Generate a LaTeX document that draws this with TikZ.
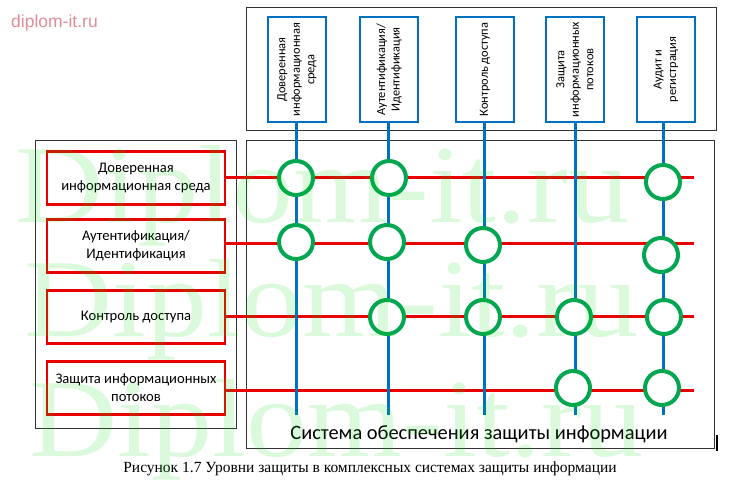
\documentclass[tikz,border=0pt]{standalone}
\usepackage{fontspec}
\setmainfont{Carlito}
\newfontfamily\serifcap{Liberation Serif}
\newfontfamily\arialwm{Liberation Sans}
\definecolor{bred}{RGB}{232,0,0}
\definecolor{bblue}{RGB}{0,112,192}
\definecolor{bgreen}{RGB}{0,166,80}
\definecolor{frm}{RGB}{50,50,50}
\definecolor{wmgreen}{RGB}{0,220,0}
\definecolor{wmpink}{RGB}{222,140,150}
\tikzset{
  outerbox/.style={draw=frm, line width=0.9pt},
  redbox/.style={draw=bred, line width=2.4pt, minimum width=178, minimum height=53, align=center, font=\fontsize{14.6}{18}\selectfont, inner sep=0pt},
  bluebox/.style={draw=bblue, line width=2.4pt, minimum width=58, minimum height=105, inner sep=0pt},
  vtext/.style={rotate=90, align=center, font=\fontsize{12.4}{14.5}\selectfont, inner sep=0pt},
  redline/.style={draw=bred, line width=3pt},
  blueline/.style={draw=bblue, line width=3pt},
  ring/.style={circle, draw=bgreen, line width=4pt, fill=white, minimum size=34, inner sep=0pt},
  watermark/.style={text=wmgreen, opacity=0.14, font=\serifcap\fontsize{111}{111}\selectfont, xscale=1.1, anchor=base west, inner sep=0pt}
}
\begin{document}
\begin{tikzpicture}[x=1pt,y=-1pt]
\useasboundingbox (0,0) rectangle (747,486);
% frames
\node[outerbox, minimum width=470, minimum height=123, anchor=north west, inner sep=0pt] (topframe) at (246,7) {};
\node[outerbox, minimum width=468, minimum height=308, anchor=north west, inner sep=0pt] (mainframe) at (246,140) {};
\node[outerbox, minimum width=201, minimum height=288, anchor=north west, inner sep=0pt] (leftframe) at (35,140) {};
% left red boxes
\node[redbox] (r1) at (136,178) {Доверенная\\информационная среда};
\node[redbox] (r2) at (136,246) {Аутентификация/\\Идентификация};
\node[redbox] (r3) at (136,317) {Контроль доступа};
\node[redbox] (r4) at (136,388) {Защита информационных\\потоков};
% top blue boxes
\node[bluebox] (b1) at (297,69.5) {};
\node[bluebox] (b2) at (389,69.5) {};
\node[bluebox] (b3) at (485,69.5) {};
\node[bluebox] (b4) at (575,69.5) {};
\node[bluebox] (b5) at (666,69.5) {};
\node[vtext] (t1) at (b1) {Доверенная\\информационная\\среда};
\node[vtext] (t2) at (b2) {Аутентификация/\\Идентификация};
\node[vtext] (t3) at (b3) {Контроль доступа};
\node[vtext] (t4) at (b4) {Защита\\информационных\\потоков};
\node[vtext] (t5) at (b5) {Аудит и\\регистрация};
% line ends
\coordinate (e1) at (694,178);
\coordinate (e2) at (694,244);
\coordinate (e3) at (694,317);
\coordinate (e4) at (694,390);
\coordinate (f1) at (296,415);
\coordinate (f2) at (388,415);
\coordinate (f3) at (484,415);
\coordinate (f4) at (575,415);
\coordinate (f5) at (663,415);
% red lines
\draw[redline] (r1.east |- e1) -- (e1);
\draw[redline] (r2.east |- e2) -- (e2);
\draw[redline] (r3.east |- e3) -- (e3);
\draw[redline] (r4.east |- e4) -- (e4);
% blue lines
\draw[blueline] (b1.south -| f1) -- (f1);
\draw[blueline] (b2.south -| f2) -- (f2);
\draw[blueline] (b3.south -| f3) -- (f3);
\draw[blueline] (b4.south -| f4) -- (f4);
\draw[blueline] (b5.south -| f5) -- (f5);
% rings
\node[ring] (c11) at (296,178) {};
\node[ring] (c12) at (389,178) {};
\node[ring] (c15) at (663,182) {};
\node[ring] (c21) at (296,242) {};
\node[ring] (c22) at (387,242) {};
\node[ring] (c23) at (483,245) {};
\node[ring] (c25) at (661,255) {};
\node[ring] (c32) at (387,317) {};
\node[ring] (c33) at (483,317) {};
\node[ring] (c34) at (574,317) {};
\node[ring] (c35) at (664,317) {};
\node[ring] (c44) at (573,388) {};
\node[ring] (c45) at (662,388) {};
% labels
\node[font=\fontsize{20.4}{22}\selectfont, anchor=base, inner sep=0pt] (syslabel) at (479,439) {Система обеспечения защиты информации};
\draw[line width=2pt] (717,435) -- (717,451);
\node[font=\serifcap\fontsize{15.5}{17}\selectfont, anchor=base, inner sep=0pt] (caption) at (370,472) {Рисунок 1.7 Уровни защиты в комплексных системах защиты информации};
% watermarks
\node[watermark] (wm1) at (15,223) {Diplom-it.ru};
\node[watermark] (wm2) at (24,337) {Diplom-it.ru};
\node[watermark] (wm3) at (29,456) {Diplom-it.ru};
\node[text=wmpink, font=\arialwm\fontsize{17.5}{18}\selectfont, anchor=base west, inner sep=0pt] (wmtop) at (11,28) {diplom-it.ru};
\end{tikzpicture}
\end{document}
